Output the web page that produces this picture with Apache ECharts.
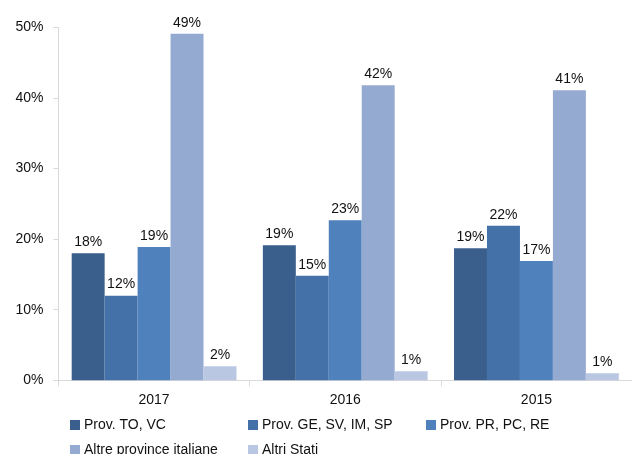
<!DOCTYPE html>
<html>
<head>
<meta charset="utf-8">
<script src="https://cdn.jsdelivr.net/npm/echarts@6/dist/echarts.min.js"></script>
<style>
html,body{margin:0;padding:0;background:#fff;}
#chart{width:632px;height:454px;}
</style>
</head>
<body>
<div id="chart"></div>
<script>
var categories = ['2017', '2016', '2015'];
var seriesNames = ['Prov. TO, VC', 'Prov. GE, SV, IM, SP', 'Prov. PR, PC, RE', 'Altre province italiane', 'Altri Stati'];
var provToVc = [18.0, 19.15, 18.7];
var provGeSvImSp = [12.0, 14.8, 21.9];
var provPrPcRe = [18.9, 22.7, 16.9];
var altreProvince = [49.1, 41.8, 41.1];
var altriStati = [2.0, 1.3, 1.0];
var yTicks = [0, 10, 20, 30, 40, 50];

var values = [provToVc, provGeSvImSp, provPrPcRe, altreProvince, altriStati];
var colors = ['#3A5F8D', '#4371A8', '#4F81BD', '#95AAD1', '#BAC7E2'];
var font = '"Liberation Sans", Arial, sans-serif';
var fs = 14;

var chart = echarts.init(document.getElementById('chart'));

var legendPos = [
  {left: 70, top: 418},
  {left: 248, top: 418},
  {left: 426, top: 418},
  {left: 70, top: 443},
  {left: 248, top: 443}
];

var legends = seriesNames.map(function (n, i) {
  return {
    data: [n],
    left: legendPos[i].left,
    top: legendPos[i].top,
    padding: 0,
    itemWidth: 10,
    itemHeight: 10,
    itemGap: 0,
    icon: 'rect',
    selectedMode: false,
    textStyle: {fontFamily: font, fontSize: fs, color: '#111', padding: [0, 0, 0, -1]}
  };
});

var series = seriesNames.map(function (n, i) {
  return {
    name: n,
    type: 'bar',
    data: values[i],
    barGap: '0%',
    barCategoryGap: '13.8%',
    itemStyle: {color: colors[i]},
    label: {
      show: true,
      position: 'top',
      distance: 4,
      fontFamily: font,
      fontSize: fs,
      color: '#111',
      formatter: function (p) { return Math.round(p.value) + '%'; }
    }
  };
});

chart.setOption({
  animation: false,
  color: colors,
  legend: legends,
  grid: {left: 58.5, top: 27.5, width: 579.5, height: 352.8, containLabel: false},
  xAxis: {
    type: 'category',
    data: categories,
    axisLine: {lineStyle: {color: '#D9D9D9', width: 1}},
    axisTick: {show: true, length: 6, lineStyle: {color: '#D9D9D9'}},
    axisLabel: {fontFamily: font, fontSize: fs, color: '#111', margin: 13}
  },
  yAxis: {
    type: 'value',
    min: yTicks[0],
    max: yTicks[yTicks.length - 1],
    interval: 10,
    axisLine: {show: true, lineStyle: {color: '#D9D9D9', width: 1}},
    axisTick: {show: true, length: 5, lineStyle: {color: '#D9D9D9'}},
    splitLine: {show: false},
    axisLabel: {fontFamily: font, fontSize: fs, color: '#111', margin: 15,
      formatter: function (v) { return v + '%'; }}
  },
  series: series
});
</script>
</body>
</html>
